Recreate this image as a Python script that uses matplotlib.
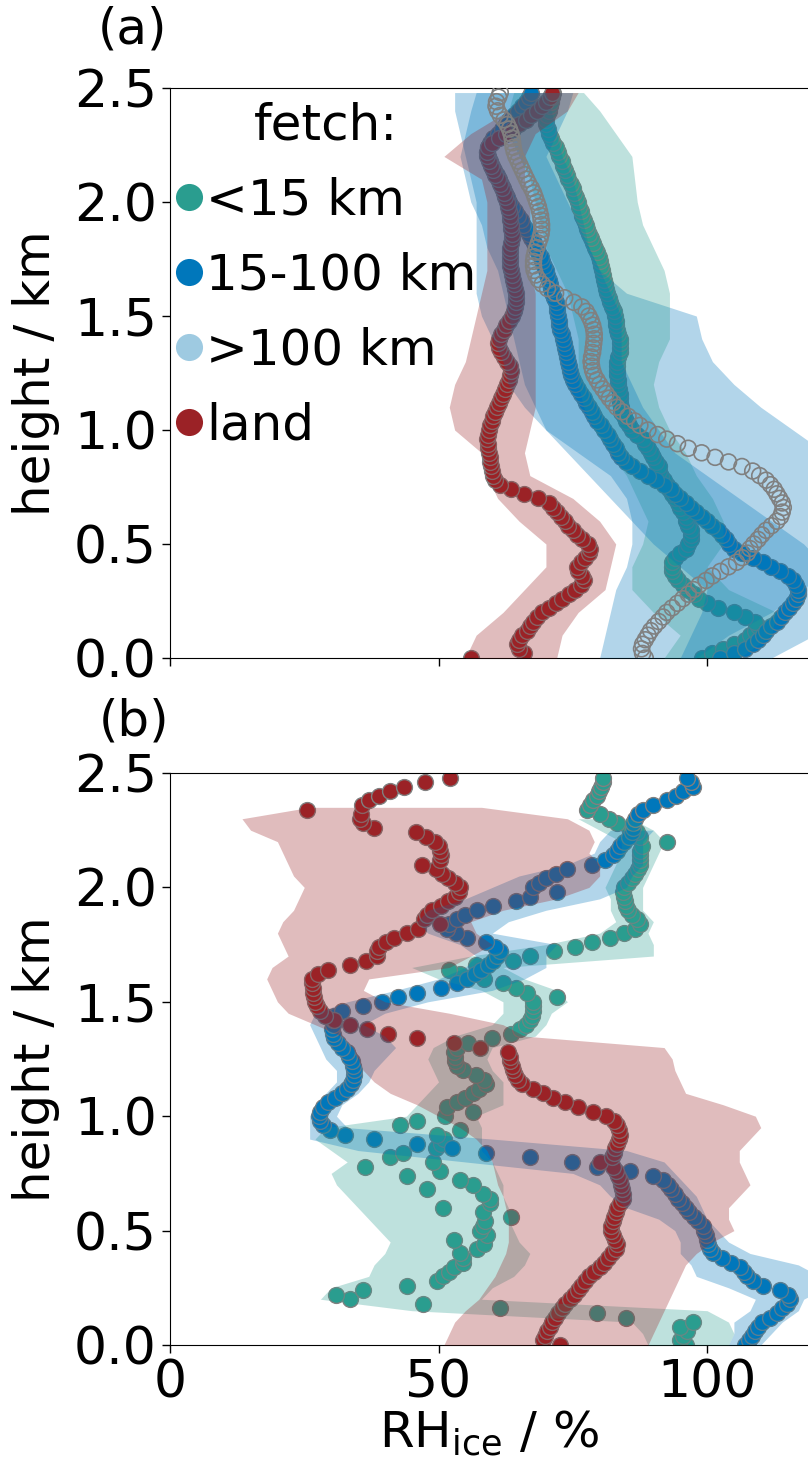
import numpy as np
import matplotlib
matplotlib.use("Agg")
import matplotlib.pyplot as plt
from matplotlib.lines import Line2D

# sampling levels of the mean profiles (km)
h = np.round(np.arange(125) * 0.02, 2)

labels = ["<15 km", "15-100 km", ">100 km", "land"]
colors = ["#2a9d8f", "#0077bb", "#9ecae1", "#9b2226"]

# ---- panel (a): mean RHice profiles (%)
near_a = [99, 101, 103, 105, 107, 108, 109, 109.5, 109, 107,
          105, 102, 100, 98.5, 97.5, 96.5, 95.5, 94.5, 94, 93.5,
          93.5, 93.5, 94, 95, 96, 96.5, 97, 97, 97, 96.5,
          96, 96, 95.5, 95, 94.5, 94, 93.5, 93, 92.5, 92,
          91.5, 91, 91, 90.5, 90, 89.5, 89, 88.5, 88, 87,
          86, 85.5, 85, 84.5, 84, 84, 83.8, 83.7, 83.7, 83.6,
          83.5, 83.4, 83.3, 83.2, 83.2, 83.3, 83.5, 83.7, 83.8, 83.8,
          83.7, 83.5, 83.3, 83.1, 83, 82.8, 82.6, 82.3, 82, 81.7,
          81.4, 81.2, 81, 80.8, 80.6, 80.4, 80.2, 80, 79.8, 79.5,
          79.1, 78.7, 78.3, 78, 77.7, 77.4, 77.1, 76.8, 76.5, 76.2,
          76, 75.6, 75.3, 75, 74.6, 74.2, 73.9, 73.5, 73.2, 72.9,
          72.5, 72.2, 71.8, 71.4, 71, 70.6, 70.3, 70.1, 70, 70.2,
          70.5, 70.8, 71, 71.2, 71.3]
mid_a = [102.5, 105, 107, 108.5, 109.5, 110.5, 111, 112, 113, 113.8,
         114.5, 115.3, 116, 116.5, 117, 117, 116.5, 116, 115, 113.5,
         112, 110.5, 108.5, 106.5, 105, 104, 103.5, 102.8, 102, 101,
         100, 99, 98, 97, 96, 95, 94, 93.2, 92, 90.5,
         89, 87.5, 86, 85, 84, 83.5, 83, 82.5, 82, 81.5,
         80.8, 80.2, 79.6, 79, 78.5, 78, 77.5, 77, 76.5, 76,
         75.5, 75, 74.7, 74.5, 74.3, 74.1, 74, 73.8, 73.5, 73.3,
         73.1, 72.9, 72.7, 72.5, 72.4, 72.3, 72.1, 72, 71.8, 71.5,
         71.2, 71, 70.7, 70.5, 70.2, 70, 69.7, 69.3, 69, 68.6,
         68.2, 67.8, 67.3, 66.8, 66.3, 65.8, 65.3, 64.8, 64.2, 63.6,
         63.2, 62.8, 62.4, 62, 61.6, 61.2, 60.8, 60.4, 60, 59.6,
         59.3, 59.1, 59.2, 59.6, 60.2, 61, 61.8, 62.5, 63.2, 64,
         64.8, 65.6, 66.3, 66.9, 67.3]
far_a = [88.5, 88, 87.8, 88, 88.5, 89, 89.5, 90.2, 91, 91.8,
         92.5, 93.5, 94.5, 95.5, 96.5, 97.5, 98.5, 99.8, 101, 102.5,
         104, 105.5, 106.5, 107.5, 108, 108.7, 109.5, 110.2, 111, 112,
         113, 113.7, 114, 114.2, 114, 113.5, 113, 112.5, 111.8, 111,
         109.8, 108.5, 106.5, 104, 101.5, 99, 96.5, 94.5, 92.5, 90.8,
         89, 87.5, 86.5, 85.3, 84.2, 83.2, 82.5, 81.8, 81.2, 80.6,
         80, 79.5, 79, 78.7, 78.5, 78.4, 78.5, 78.7, 78.8, 78.9,
         79, 79, 78.9, 78.7, 78.4, 78, 77.5, 76.7, 75.2, 73.5,
         71.8, 70.3, 69.3, 68.6, 68.1, 67.8, 67.7, 67.7, 67.8, 68,
         68.3, 68.6, 68.9, 69.1, 69.2, 69.2, 69.1, 69, 68.8, 68.6,
         68.3, 68, 67.7, 67.3, 66.8, 66.4, 66, 65.6, 65.2, 64.8,
         64.4, 64.1, 63.9, 63.8, 63.7, 63.5, 63.2, 62.8, 62.2, 61.5,
         61, 60.7, 60.8, 61.2, 61.5]
land_a = [56, 66, 65, 64.6, 65, 65.5, 66.4, 67, 67.6, 68.3,
          69.2, 70.5, 71.8, 73, 74.3, 75.5, 76.5, 77, 76.8, 76,
          75.8, 76.5, 77.3, 78, 78.2, 77.8, 76.8, 75.8, 75, 74.2,
          73.5, 72.8, 72, 71.4, 70.5, 68.5, 66, 63.5, 61.5, 60.5,
          60.2, 60, 59.8, 59.6, 59.5, 59.4, 59.3, 59.2, 59.1, 59.2,
          59.4, 59.6, 59.9, 60.2, 60.5, 60.8, 61.2, 61.6, 62, 62.4,
          62.8, 63.2, 63.4, 63.5, 63.3, 62.8, 62.2, 61.7, 61.3, 61.1,
          61.2, 61.6, 62.1, 62.6, 63.1, 63.6, 64, 64.3, 64.5, 64.5,
          64.4, 64.2, 64, 63.8, 63.6, 63.5, 63.4, 63.3, 63.3, 63.3,
          63.4, 63.5, 63.6, 63.6, 63.5, 63.5, 63.4, 63.3, 63.1, 62.9,
          62.7, 62.4, 62.1, 61.8, 61.4, 61, 60.6, 60.2, 59.8, 59.4,
          59.1, 59, 59.2, 60, 61.2, 62.5, 63.8, 65, 66.2, 67.3,
          68.3, 69.2, 70, 70.7, 71.2]

# panel (a) spread (levels in km)
sh_a = [0.0, 0.1, 0.2, 0.3, 0.4, 0.5, 0.6, 0.7, 0.8, 0.9, 1.0, 1.1, 1.2,
        1.3, 1.4, 1.5, 1.6, 1.7, 1.8, 1.9, 2.0, 2.1, 2.2, 2.3, 2.4, 2.48]
near_a_lo = [92, 95, 90, 86, 86, 88, 89, 87, 85, 82, 79, 77, 76, 76, 76, 75, 74, 72, 70, 69, 68, 67, 65, 63, 63, 64]
near_a_hi = [106, 112, 113, 104, 100, 103, 103, 101, 98, 96, 93, 91, 90, 91, 93, 93, 93, 92, 90, 88, 87, 86.5, 86, 83, 80, 77]
mid_a_lo = [95, 97, 99, 100, 95, 90, 86, 82, 78, 74, 70, 68, 66, 65, 64, 63, 62, 61, 59, 58, 56, 55, 54, 55, 56, 57]
mid_a_hi = [112, 120, 124, 124, 122, 118, 112, 106, 100, 94, 91, 88, 86, 84, 84, 84, 82, 80, 78, 76, 74, 72, 70, 72, 74, 75]
far_a_lo = [80, 81, 82, 83, 85, 86, 86, 85, 82, 76, 70, 66, 63, 62, 60, 58, 57, 57, 57, 57, 57, 56, 55, 54, 53, 53]
far_a_hi = [98, 104, 112, 118, 122, 125, 125, 125, 124, 122, 116, 110, 105, 101, 99, 98, 85, 80, 78, 77, 76, 75, 73, 72, 71, 70]
land_a_lo = [55, 57, 62, 66, 70, 70, 65, 61, 59, 58, 53, 52, 53, 55, 56, 57, 58, 59, 59, 59, 59, 58, 51, 56, 63, 66]
land_a_hi = [72, 73, 76, 81, 82, 83, 80, 75, 67, 66, 67, 68, 68, 68, 68, 68, 68, 67, 67, 67, 67, 66, 66, 68, 74, 76]

# ---- panel (b): mean RHice profiles (%)
near_b = [96, 95, 95.5, 96.2, 95, 97.4, 85, 79.5, 61.5, 47.2,
          33.5, 31, 36, 44.1, 49.7, 50.9, 52, 52.8, 54.6, 54.6,
          54, 57.1, 58.5, 52.8, 59, 57.7, 58.2, 58.7, 63.5, 58.3,
          50.9, 59.6, 59.6, 58.3, 47.8, 56.4, 54, 44.1, 50.3, 36.3,
          49, 41, 43.4, 49.5, 50.5, 51, 49.8, 54, 42.8, 46,
          51.2, 56.4, 51.5, 53.5, 55, 56.4, 57.5, 58.9, 58.5, 57,
          54.5, 53.5, 53, 53, 52.8, 53.5, 55.5, 60, 63.5, 65.2,
          66.3, 67, 67.4, 67.6, 67.6, 67.5, 72, 66.4, 64.5, 62,
          58.5, 54, 52, 57, 63.9, 67, 71.5, 75.5, 78.5, 82,
          84.5, 86.5, 87.5, 86.9, 86, 85.3, 85, 84.7, 84.5, 84.4,
          84.6, 85.2, 86, 86.6, 87.2, 87.5, 87.5, 87.5, 87.6, 87.8,
          92.5, 87.5, 87, 85.5, 83.2, 81.8, 80, 77.6, 78.2, 78.8,
          79.5, 79.8, 80.2, 80.7, 80.7]
mid_b = [107, 107.8, 108.4, 109, 109.5, 110.2, 111.7, 113, 114, 114.8,
         115.4, 115, 113.6, 110.5, 108.5, 107.4, 106.8, 106.2, 104.5, 102.8,
         101.2, 100.6, 100.2, 100, 99.8, 99.5, 99.3, 98.4, 97.5, 96.6,
         96, 95.3, 94.6, 94, 93.3, 92.7, 91.8, 90, 85.7, 79.5,
         74.8, 67, 58.9, 52.5, 45.9, 38, 32.5, 29.8, 28.5, 27.9,
         27.8, 28, 28.5, 29.5, 30.8, 32, 33, 33.7, 34.1, 34.2,
         34.2, 34.1, 33.8, 33.3, 32.9, 32, 31.2, 30.6, 30.3, 30.2,
         30.3, 30.4, 30.5, 32, 36, 39.5, 42.5, 46, 50.5, 53.5,
         55.3, 56.8, 58, 59.2, 60.2, 60.9, 61.4, 60.6, 58.9, 55.3,
         53.2, 51.5, 52, 53.5, 55, 57.1, 60.2, 64.5, 67, 72,
         67.6, 68.8, 70, 71.8, 73.9, 78.5, 81, 82.4, 83.2, 83.8,
         84.5, 85.4, 86, 86.3, 86.3, 86.6, 87.2, 88.1, 90, 92.5,
         94.3, 95.6, 97.4, 97, 96.2]
land_b = [72.6, 69.5, 69.8, 70.2, 70.7, 71.2, 71.7, 72.2, 72.9, 73.5,
          74.4, 75.3, 76, 76.6, 77.2, 78, 79, 80, 80.8, 81.6,
          82.3, 83, 83.2, 82.8, 82.4, 82.2, 82.2, 82.4, 82.7, 83,
          83.3, 83.8, 84.3, 84.4, 84.2, 84, 83.8, 83.5, 83, 82.4,
          80.1, 82.3, 82.6, 82.9, 83.3, 83.6, 83.8, 83.6, 83.3, 82.6,
          81.2, 78.8, 76, 73.6, 71.3, 69.5, 67.5, 65.5, 64.8, 64.3,
          63.8, 63.6, 63.3, 63.3, 63, 57.7, 52.8, 46, 40.5, 36.6,
          33.5, 30.5, 28.8, 28, 27.3, 27, 26.8, 26.7, 26.6, 26.5,
          26.4, 27.5, 29.5, 33.5, 36.5, 38.5, 38.5, 39, 40.2, 41.8,
          44.2, 46.2, 50.3, 47.3, 47.8, 48.8, 50.4, 51.8, 53, 53.8,
          54, 53, 51.8, 50.6, 49.5, 46.9, 50.3, 50.4, 50.3, 50,
          49.4, 47.7, 45.8, 38, 36, 35.4, 35.5, 25.5, 35.7, 37,
          39, 41, 43.5, 47.5, 52.2]

# panel (b) spread (levels every 50 m)
sh_b = np.round(np.arange(51) * 0.05, 2)
nan = np.nan
near_b_lo = [89, 88, 86, 45, 28, 30, 37, 38, 40, 41, 39, 37, 35, 33, 31, 30, 33, 30, 27, 29,
             44, 46, 48, 50, 49, 48, 49, 53, 60, 62, 62, 58, 50, 45, 56, 70, 80, 83, 82, 82,
             81, 82, 83, 84, 84, 80, 76, nan, nan, nan, nan]
near_b_hi = [104, 105, 104, 100, 58, 60, 64, 66, 67, 65, 64, 63, 63, 62, 62, 61, 60, 58, 58, 58,
             57, 62, 62, 62, 60, 59, 60, 68, 70, 71, 74, 72, 66, 62, 90, 90, 89, 90, 88, 88,
             88, 89, 90, 91, 92, 90, 86, nan, nan, nan, nan]
mid_b_lo = [104, 105, 105, 108, 109, 104, 98, 97, 95, 95, 94, 91, 85, 82, 80, 75, 55, 35, 26, 26,
            26, 27, 29, 31, 31, 29, 28, 27, 26, 27, 33, 42, 50, 55, 57, 54, 48, 46, 48, 55,
            60, 65, 74, 79, 80, 82, nan, nan, nan, nan, nan]
mid_b_hi = [110, 112, 114, 117, 118, 122, 121, 117, 108, 104, 102, 100, 99, 98, 96, 94, 92, 85, 60, 33,
            31, 32, 35, 37, 38, 40, 42, 40, 36, 40, 48, 60, 66, 70, 70, 72, 60, 63, 70, 80,
            85, 86, 88, 88, 88, 90, nan, nan, nan, nan, nan]
land_b_lo = [51, 52, 53, 55, 57.5, 59, 60.5, 61.5, 62.5, 63, 63, 63, 62.5, 62, 61, 60.5, 60, 59, 57, 54,
             50, 46, 41, 38, 36, 35, 34, 32, 27, 22, 20, 19, 18, 19, 22, 21, 20, 21, 23, 24,
             25, 23, 22, 21, 20, 15, 13.4, 26, nan, nan, nan]
land_b_hi = [89, 90, 91, 92, 93, 94, 95, 96, 98, 101, 105, 104, 104, 106, 108, 107, 106, 106, 108, 110,
             109, 103, 96, 95, 94, 93.5, 92, 66, 62, 52, 40, 36, 37, 52, 56, 60, 57, 56, 62, 72,
             78, 80, 80, 78, 79, 78, 74, 58, nan, nan, nan]

FS = 36
TICK_FS = 37.5
fig = plt.figure(figsize=(8.08, 14.70), dpi=100)
ax_a = fig.add_axes([170 / 808, (1470 - 658) / 1470, 638 / 808, 570 / 1470])
ax_b = fig.add_axes([170 / 808, (1470 - 1345) / 1470, 638 / 808, 572 / 1470])

panel_a = [(near_a, near_a_lo, near_a_hi), (mid_a, mid_a_lo, mid_a_hi),
           (far_a, far_a_lo, far_a_hi), (land_a, land_a_lo, land_a_hi)]
panel_b = [(near_b, near_b_lo, near_b_hi), (mid_b, mid_b_lo, mid_b_hi),
           None, (land_b, land_b_lo, land_b_hi)]
fill_colors = ["#2a9d8f", "#0077bb", "#0077bb", "#9b2226"]
fill_order = [2, 0, 1, 3]

for ax, series, sh in [(ax_a, panel_a, sh_a), (ax_b, panel_b, sh_b)]:
    # filled points first, spread drawn over them, open circles on top
    for i, s in enumerate(series):
        if s is None:
            continue
        if i == 2:
            ax.scatter(s[0], h, s=130, facecolors="none", edgecolors="grey", linewidths=1.2, zorder=4)
        else:
            ax.scatter(s[0], h, s=130, c=colors[i], edgecolors="grey", linewidths=1, zorder=2)
    for i in fill_order:
        s = series[i]
        if s is None:
            continue
        ax.fill_betweenx(sh, s[1], s[2], color=fill_colors[i], alpha=0.3, lw=0, zorder=3)

    ax.set_xlim(0, 118.8)
    ax.set_ylim(0, 2.5)
    ax.set_xticks([0, 50, 100])
    ax.set_yticks([0, 0.5, 1.0, 1.5, 2.0, 2.5])
    ax.spines["right"].set_visible(False)
    ax.tick_params(labelsize=TICK_FS, length=6, width=1)
    ax.set_ylabel("height / km", fontsize=FS, labelpad=10)

ax_a.tick_params(labelbottom=False)
ax_b.set_xlabel("RH$_{\\mathrm{ice}}$ / %", fontsize=FS, labelpad=0)

handles = [Line2D([], [], marker="o", ls="none", markerfacecolor=c, markeredgewidth=0,
                  markersize=19.5) for c in colors]
leg = ax_a.legend(handles, labels, title="fetch:", loc="upper left", bbox_to_anchor=(0, 0.985),
                  frameon=False, fontsize=FS, title_fontsize=FS, handlelength=0.55,
                  handletextpad=0.08, borderpad=0.1, borderaxespad=0, labelspacing=0.54)

fig.text(132 / 808, 1 - 29 / 1470, "(a)", fontsize=FS, ha="center", va="center")
fig.text(134 / 808, 1 - 722 / 1470, "(b)", fontsize=FS, ha="center", va="center")

fig.savefig("out.png", dpi=100)
